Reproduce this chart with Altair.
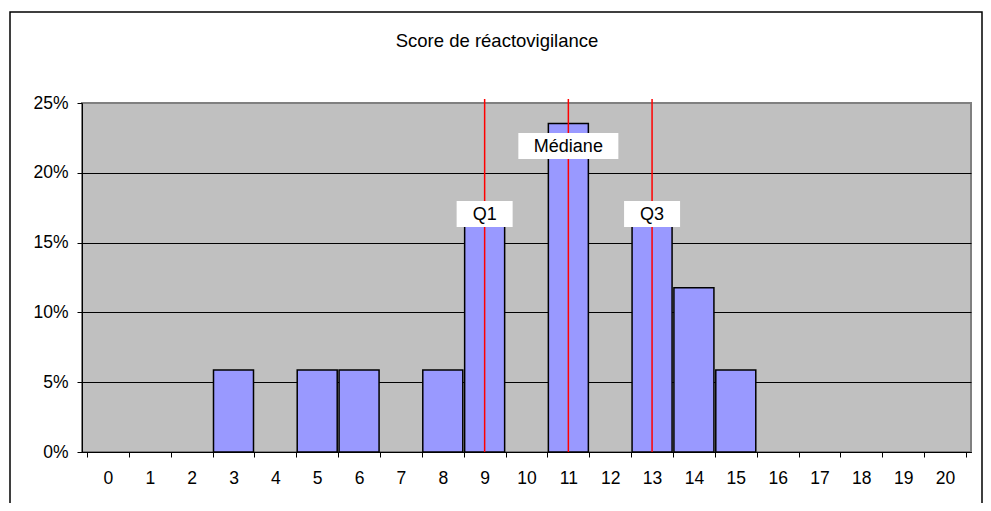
import altair as alt
import pandas as pd

# Data
scores = list(range(0, 21))
bar_scores = [3, 5, 6, 8, 9, 11, 13, 14, 15]
bar_pct = [0.0588, 0.0588, 0.0588, 0.0588, 0.1765, 0.2353, 0.1765, 0.1176, 0.0588]

marker_names = ["Q1", "Médiane", "Q3"]
marker_x = [9, 11, 13]
marker_label_y = [0.1705, 0.2192, 0.1705]

title_text = ["Score de réactovigilance"]
y_ticks = [0, 0.05, 0.10, 0.15, 0.20, 0.25]
x_tick_bounds = [s - 0.5 for s in scores] + [scores[-1] + 0.5]

FONT = "Liberation Sans"

bars_df = pd.DataFrame({"score": bar_scores, "pct": bar_pct})
mk_df = pd.DataFrame({"name": marker_names, "x": marker_x, "ly": marker_label_y})
title_df = pd.DataFrame({"t": title_text})

xscale = alt.Scale(domain=[scores[0] - 0.5, scores[-1] + 0.5], nice=False, zero=False)
yscale = alt.Scale(domain=[0, 0.25], nice=False)

grid_color = {"condition": {"test": "datum.value >= 0.25", "value": "#808080"}, "value": "#000000"}

yaxis = alt.Axis(values=y_ticks, format=".0%", tickSize=5, tickColor="#000000",
                 labelPadding=9, labelFontSize=17.5, labelFont=FONT,
                 labelColor="#000000", domainColor="#000000",
                 grid=True, gridColor=grid_color, gridWidth=1, title=None)

bars = alt.Chart(bars_df).mark_bar(
    size=40, color="#9999FF", stroke="#000000", strokeWidth=1.5
).encode(
    x=alt.X("score:Q", scale=xscale,
            axis=alt.Axis(values=scores, orient="bottom", ticks=False, tickSize=0,
                          labelPadding=17, labelFontSize=17.5, labelFont=FONT,
                          labelColor="#000000", domain=True, domainColor="#000000",
                          grid=False, title=None, labelFlush=False, labelOverlap=False)),
    y=alt.Y("pct:Q", scale=yscale, axis=yaxis),
)

# Boundary ticks of the category axis
ticks_layer = alt.Chart(pd.DataFrame({"b": x_tick_bounds})).mark_point(opacity=0).encode(
    x=alt.X("b:Q", scale=xscale,
            axis=alt.Axis(values=x_tick_bounds, orient="bottom", labels=False, ticks=True,
                          tickSize=5, tickColor="#000000", domainColor="#000000",
                          grid=False, title=None)),
)

rules = alt.Chart(mk_df).mark_rule(color="#FF0000", strokeWidth=1.5).encode(
    x=alt.X("x:Q", scale=xscale, axis=None),
    y=alt.datum(0, scale=yscale, axis=yaxis),
    y2=alt.value(-4),
)

box_small = alt.Chart(mk_df[mk_df["name"] != "Médiane"]).mark_rect(
    width=56, height=26, color="#FFFFFF"
).encode(
    x=alt.X("x:Q", scale=xscale, axis=None),
    y=alt.Y("ly:Q", scale=yscale, axis=yaxis),
)
box_big = alt.Chart(mk_df[mk_df["name"] == "Médiane"]).mark_rect(
    width=100, height=26, color="#FFFFFF"
).encode(
    x=alt.X("x:Q", scale=xscale, axis=None),
    y=alt.Y("ly:Q", scale=yscale, axis=yaxis),
)
labels = alt.Chart(mk_df).mark_text(
    font=FONT, fontSize=18, color="#000000", baseline="middle", align="center", dy=1
).encode(
    x=alt.X("x:Q", scale=xscale, axis=None),
    y=alt.Y("ly:Q", scale=yscale, axis=yaxis),
    text="name:N",
)

title = alt.Chart(title_df).mark_text(
    font=FONT, fontSize=18.5, color="#000000", baseline="middle", align="center"
).encode(
    x=alt.value(415), y=alt.value(-62), text="t:N"
)

border = alt.Chart(title_df).mark_rect(
    fill="transparent", stroke="#000000", strokeWidth=1.5
).encode(
    x=alt.value(-72), x2=alt.value(900), y=alt.value(-91), y2=alt.value(440)
)

chart = alt.layer(
    border, ticks_layer, bars, rules, box_small, box_big, labels, title
).resolve_axis(x="independent").properties(
    width=889, height=349,
    autosize=alt.AutoSizeParams(type="none"),
    padding={"left": 74, "top": 95, "right": 12, "bottom": 51},
    background="#FFFFFF",
).configure_view(
    fill="#C0C0C0", stroke="#808080", strokeWidth=2
)

chart.save("out.html", embed_options={"renderer": "svg", "actions": False})
